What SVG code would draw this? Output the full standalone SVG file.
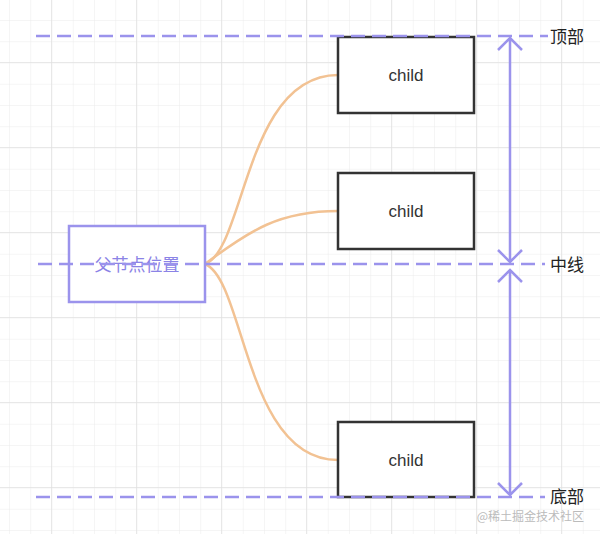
<svg xmlns="http://www.w3.org/2000/svg" width="600" height="534" viewBox="0 0 600 534">
<defs>
<pattern id="g" x="9" y="20" width="21.25" height="21.25" patternUnits="userSpaceOnUse"><path d="M0 0V21.25M0 0H21.25" stroke="#ececec" stroke-width="1" fill="none"/></pattern>
<pattern id="G" x="51" y="62" width="85" height="85" patternUnits="userSpaceOnUse"><path d="M0 0V85M0 0H85" stroke="#e2e2e2" stroke-width="1.5" fill="none"/></pattern>
</defs>
<style>
.d{stroke:#9b93ec;stroke-width:2.5;stroke-dasharray:14 7;fill:none}
.a{stroke:#9b93ec;stroke-width:2.5;fill:none}
.c{stroke:#f2c293;stroke-width:2.5;fill:none}
.b{fill:#fff;stroke:#333;stroke-width:2.5}
.t{font-family:"Liberation Sans","Noto Sans CJK SC",sans-serif;font-size:17px;fill:#333;text-anchor:middle}
.l{font-family:"Noto Sans CJK SC",sans-serif;font-size:17px;fill:#222}
</style>
<rect width="600" height="534" fill="#fff"/>
<rect width="600" height="534" fill="url(#g)"/>
<rect width="600" height="534" fill="url(#G)"/>
<g id="connectors">
<path class="c" d="M205 264C245 250 245 75 338 75"/>
<path class="c" d="M205 264C250 230 280 211 338 211"/>
<path class="c" d="M205 264C245 280 245 460 338 460"/>
</g>
<g id="child1"><rect class="b" x="338" y="37" width="136" height="76"/><text class="t" x="406" y="81">child</text></g>
<g id="child2"><rect class="b" x="338" y="173" width="136" height="76"/><text class="t" x="406" y="217">child</text></g>
<g id="child3"><rect class="b" x="338" y="422" width="136" height="75"/><text class="t" x="406" y="466">child</text></g>
<g id="parent"><rect x="69" y="226" width="136" height="76" fill="#fff" stroke="#9b93ec" stroke-width="2.5"/><text class="t" x="137" y="271" style="fill:#8b83e6">父节点位置</text></g>
<g id="guides">
<path class="d" d="M36 36H548"/>
<path class="d" d="M38 264H545"/>
<path class="d" d="M36 497H545"/>
<path class="a" d="M510 38V262M498 50L510 38L522 50M498 250L510 262L522 250"/>
<path class="a" d="M510 270V495M498 282L510 270L522 282M498 483L510 495L522 483"/>
</g>
<text class="l" x="550" y="43">顶部</text>
<text class="l" x="550" y="271">中线</text>
<text class="l" x="550" y="503">底部</text>
<text x="584" y="521" text-anchor="end" font-family="Noto Sans CJK SC,sans-serif" font-size="12" fill="#bbb">@稀土掘金技术社区</text>
</svg>
